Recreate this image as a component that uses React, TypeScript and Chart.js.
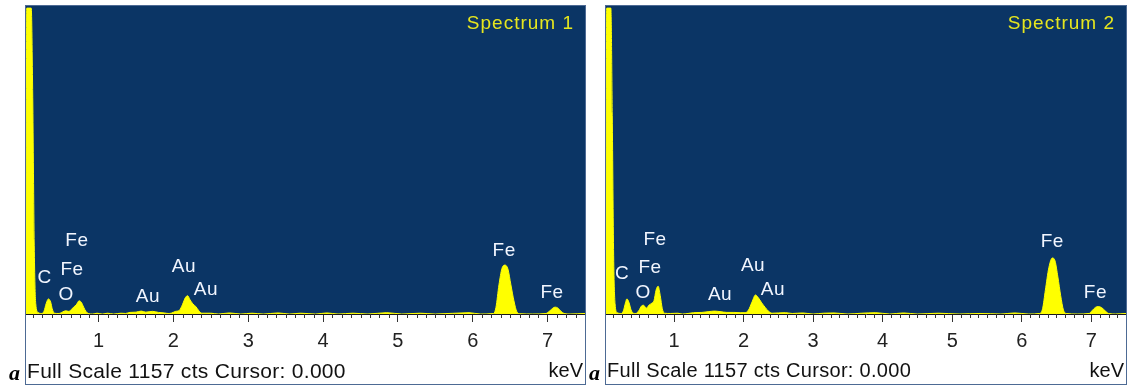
import React, { useEffect, useRef } from "react";
import { Chart, registerables } from "chart.js";

Chart.register(...registerables);

// ---------- Data ----------
const Y_MAX = 1165;
const FULL_SCALE_TEXT = "Full Scale 1157 cts Cursor: 0.000";
const UNIT_TEXT = "keV";

const majorTicks = [1, 2, 3, 4, 5, 6, 7];
const minorTickStep = 0.125;

// Spectrum 1
const spec1Kev = [
  0.03, 0.04, 0.10, 0.12, 0.14, 0.16, 0.19,
  0.24, 0.27, 0.30, 0.33, 0.36, 0.38, 0.41,
  0.47, 0.52, 0.56, 0.60, 0.64, 0.67, 0.70, 0.74, 0.77, 0.80, 0.83, 0.86,
  0.92, 0.98, 1.05, 1.12, 1.2, 1.3,
  1.36, 1.42, 1.50, 1.57, 1.63, 1.72, 1.80, 1.88, 1.93,
  1.97, 2.03, 2.08, 2.12, 2.16, 2.19, 2.22, 2.26, 2.30, 2.34, 2.38,
  2.5, 2.6, 2.75, 2.9, 3.05, 3.2, 3.4, 3.55, 3.7, 3.9, 4.05, 4.2, 4.4, 4.6, 4.85, 5.05, 5.3, 5.5, 5.95, 6.1,
  6.28, 6.31, 6.35, 6.39, 6.43, 6.47, 6.51, 6.55, 6.59, 6.63,
  6.8, 6.98, 7.03, 7.07, 7.10, 7.14, 7.18, 7.22, 7.3, 7.5,
];
const spec1Counts = [
  0, 1157, 1157, 820, 260, 40, 6,
  2, 10, 40, 57, 45, 20, 3,
  2, 8, 12, 10, 18, 27, 34, 50, 44, 26, 10, 2,
  0, 3, 0, 3, 0, 3,
  2, 6, 7, 11, 7, 10, 6, 4, 2,
  3, 10, 14, 35, 62, 69, 55, 38, 28, 12, 3,
  3, 0, 4, 0, 3, 0, 4, 0, 3, 0, 4, 0, 3, 0, 5, 0, 3, 0, 5, 0,
  2, 25, 110, 172, 185, 170, 110, 50, 8, 1,
  0, 2, 12, 22, 26, 22, 10, 2, 0, 2,
];
const spec1LabelText = ["Fe", "C", "Fe", "O", "Au", "Au", "Au", "Fe", "Fe"];
const spec1LabelKev = [0.71, 0.28, 0.645, 0.565, 1.66, 2.14, 2.435, 6.42, 7.06];
const spec1LabelCounts = [276, 136, 166, 72, 64, 178, 91, 238, 79];

// Spectrum 2
const spec2Kev = [
  0.02, 0.03, 0.09, 0.11, 0.13, 0.15, 0.18,
  0.24, 0.27, 0.30, 0.32, 0.35, 0.38, 0.41,
  0.45, 0.49, 0.53, 0.56, 0.60, 0.64, 0.68, 0.71, 0.74, 0.77, 0.80, 0.83, 0.86,
  0.95, 1.05, 1.12,
  1.2, 1.28, 1.4, 1.5, 1.58, 1.66, 1.76, 1.86, 1.95,
  2.02, 2.07, 2.12, 2.17, 2.21, 2.26, 2.31, 2.36, 2.41,
  2.5, 2.6, 2.7, 2.85, 3.0, 3.15, 3.3, 3.5, 3.7, 3.9, 4.1, 4.3, 4.5, 4.8, 5.1, 5.4, 5.7, 5.9, 6.1,
  6.26, 6.30, 6.34, 6.39, 6.44, 6.48, 6.52, 6.56, 6.60, 6.64,
  6.8, 6.97, 7.01, 7.06, 7.10, 7.15, 7.20, 7.25, 7.35, 7.5,
];
const spec2Counts = [
  0, 1157, 1157, 750, 220, 40, 5,
  2, 12, 42, 57, 44, 16, 3,
  2, 12, 30, 33, 22, 34, 41, 50, 90, 105, 70, 20, 3,
  2, 3, 0,
  2, 5, 6, 9, 11, 9, 6, 6, 5,
  5, 15, 45, 72, 62, 42, 25, 10, 3,
  4, 5, 2, 4, 0, 3, 4, 0, 3, 5, 0, 4, 0, 3, 0, 2, 0, 4, 0,
  2, 20, 90, 175, 212, 200, 140, 70, 15, 2,
  0, 2, 12, 25, 28, 24, 12, 2, 0, 2,
];
const spec2LabelText = ["Fe", "C", "Fe", "O", "Au", "Au", "Au", "Fe", "Fe"];
const spec2LabelKev = [0.725, 0.25, 0.653, 0.553, 1.66, 2.135, 2.42, 6.44, 7.06];
const spec2LabelCounts = [280, 151, 174, 79, 72, 182, 91, 272, 79];

// ---------- Styles ----------
const BLUE = "#0b3565";
const YELLOW = "#ffff00";
const SANS = "'Liberation Sans', Arial, sans-serif";

type PanelSpec = {
  title: string;
  kev: number[];
  counts: number[];
  labelText: string[];
  labelKev: number[];
  labelCounts: number[];
  xMin: number;
  xMax: number;
  left: number;
  width: number;
  tickFont: number;
  footFont: number;
};

const panels: PanelSpec[] = [
  {
    title: "Spectrum 1",
    kev: spec1Kev,
    counts: spec1Counts,
    labelText: spec1LabelText,
    labelKev: spec1LabelKev,
    labelCounts: spec1LabelCounts,
    xMin: 0.03,
    xMax: 7.5,
    left: 25,
    width: 561,
    tickFont: 20,
    footFont: 21,
  },
  {
    title: "Spectrum 2",
    kev: spec2Kev,
    counts: spec2Counts,
    labelText: spec2LabelText,
    labelKev: spec2LabelKev,
    labelCounts: spec2LabelCounts,
    xMin: 0.02,
    xMax: 7.5,
    left: 605,
    width: 522,
    tickFont: 20,
    footFont: 20,
  },
];

const PANEL_TOP = 5;
const PANEL_HEIGHT = 380;
const PLOT_HEIGHT = 308;

function SpectrumPanel({ spec }: { spec: PanelSpec }) {
  const ref = useRef<HTMLCanvasElement | null>(null);
  const cw = spec.width - 2;
  const ch = PANEL_HEIGHT - 2;

  useEffect(() => {
    if (!ref.current) return;
    const bgPlugin = {
      id: "bgFill",
      beforeDraw(chart: any) {
        const { ctx, chartArea } = chart;
        ctx.save();
        ctx.fillStyle = BLUE;
        ctx.fillRect(chartArea.left, chartArea.top, chartArea.right - chartArea.left, chartArea.bottom - chartArea.top);
        ctx.restore();
      },
    };
    const decoPlugin = {
      id: "deco",
      afterDraw(chart: any) {
        const { ctx, chartArea } = chart;
        const xs = chart.scales.x;
        const ys = chart.scales.y;
        ctx.save();
        // minor ticks
        ctx.strokeStyle = "#333";
        ctx.lineWidth = 1;
        for (let v = minorTickStep; v < spec.xMax; v += minorTickStep) {
          if (Math.abs(v - Math.round(v)) < 1e-6) continue;
          if (v < spec.xMin) continue;
          const px = Math.round(xs.getPixelForValue(v)) + 0.5;
          ctx.beginPath();
          ctx.moveTo(px, xs.top);
          ctx.lineTo(px, xs.top + 4);
          ctx.stroke();
        }
        // peak labels
        ctx.fillStyle = "#f2f6ff";
        ctx.font = `19px ${SANS}`;
        (ctx as any).letterSpacing = "0.5px";
        ctx.textAlign = "center";
        ctx.textBaseline = "middle";
        spec.labelText.forEach((t, i) => {
          ctx.fillText(t, xs.getPixelForValue(spec.labelKev[i]), ys.getPixelForValue(spec.labelCounts[i]));
        });
        // spectrum title
        ctx.fillStyle = "#e6e61e";
        ctx.font = `19px ${SANS}`;
        (ctx as any).letterSpacing = "1px";
        ctx.textAlign = "right";
        ctx.fillText(spec.title, chartArea.right - 11, chartArea.top + 18);
        ctx.restore();
      },
    };
    const chart = new Chart(ref.current, {
      type: "line",
      data: {
        datasets: [
          {
            data: spec.kev.map((x, i) => ({ x, y: spec.counts[i] })),
            fill: "origin",
            backgroundColor: YELLOW,
            borderColor: YELLOW,
            borderWidth: 1,
            pointRadius: 0,
            cubicInterpolationMode: "monotone",
          },
        ],
      },
      options: {
        animation: false,
        responsive: false,
        maintainAspectRatio: false,
        layout: { padding: 0 },
        plugins: { legend: { display: false }, tooltip: { enabled: false }, title: { display: false } },
        scales: {
          x: {
            type: "linear",
            min: spec.xMin,
            max: spec.xMax,
            afterBuildTicks: (s: any) => {
              s.ticks = majorTicks.map((v) => ({ value: v }));
            },
            afterFit: (s: any) => {
              s.height = ch - PLOT_HEIGHT;
            },
            grid: { drawOnChartArea: false, drawTicks: true, tickLength: 8, tickColor: "#333", tickWidth: 1 },
            border: { display: true, color: "#1a1a1a", width: 1 },
            ticks: {
              font: { family: SANS, size: spec.tickFont },
              color: "#222",
              padding: 7,
              maxRotation: 0,
              autoSkip: false,
              callback: (v: any) => String(v),
            },
          },
          y: { display: false, min: 0, max: Y_MAX },
        },
      } as any,
      plugins: [bgPlugin, decoPlugin],
    });
    return () => chart.destroy();
  }, [spec]);

  return (
    <div
      style={{
        position: "absolute",
        left: spec.left,
        top: PANEL_TOP,
        width: spec.width - 2,
        height: PANEL_HEIGHT - 2,
        border: "1px solid #4d6a94",
        background: "#fff",
      }}
    >
      <canvas ref={ref} width={cw} height={ch} style={{ display: "block", width: cw, height: ch }} />
      <div
        style={{
          position: "absolute",
          left: 1,
          top: 354,
          font: `${spec.footFont}px ${SANS}`,
          lineHeight: `${spec.footFont}px`,
          letterSpacing: "0.3px",
          color: "#111",
          whiteSpace: "nowrap",
        }}
      >
        {FULL_SCALE_TEXT}
      </div>
      <div
        style={{
          position: "absolute",
          right: 2,
          top: 354,
          font: `20px ${SANS}`,
          lineHeight: "20px",
          color: "#111",
          whiteSpace: "nowrap",
        }}
      >
        {UNIT_TEXT}
      </div>
      <div
        style={{
          position: "absolute",
          left: -17,
          top: 356,
          font: `italic bold 22px 'Liberation Serif', 'Times New Roman', serif`,
          lineHeight: "22px",
          color: "#000",
        }}
      >
        a
      </div>
    </div>
  );
}

export default function App() {
  return (
    <div style={{ position: "fixed", left: 0, top: 0, width: 1128, height: 387, background: "#fff", overflow: "hidden" }}>
      {panels.map((p) => (
        <SpectrumPanel key={p.title} spec={p} />
      ))}
    </div>
  );
}
